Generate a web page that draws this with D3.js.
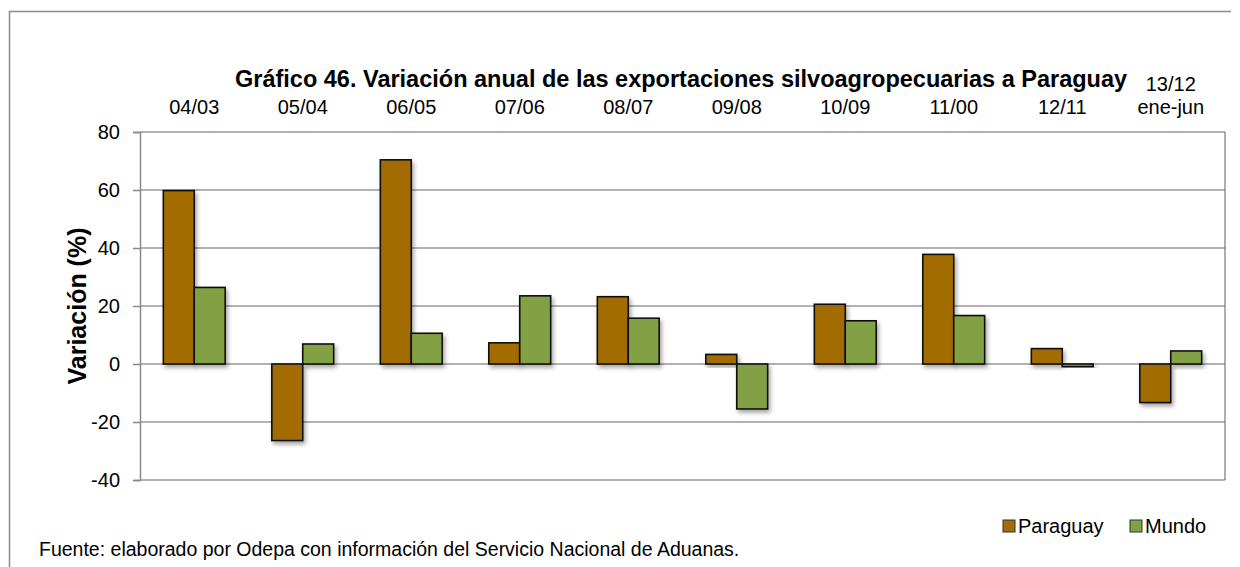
<!DOCTYPE html>
<html>
<head>
<meta charset="utf-8">
<script src="https://cdn.jsdelivr.net/npm/d3@7"></script>
<style>
  body { margin: 0; background: #fff; }
  svg text { font-family: "Liberation Sans", Arial, sans-serif; }
</style>
</head>
<body>
<div id="chart-area"></div>
<script>
// periods (top axis labels)
const periods = ['04/03', '05/04', '06/05', '07/06', '08/07', '09/08', '10/09', '11/00', '12/11', '13/12\nene-jun'];
const seriesNames = ['Paraguay', 'Mundo'];
const paraguay = [59.8, -26.4, 70.4, 7.3, 23.2, 3.3, 20.6, 37.8, 5.3, -13.3];
const mundo = [26.4, 6.9, 10.6, 23.5, 15.8, -15.5, 14.9, 16.7, -0.9, 4.5];
const yTicks = [-40, -20, 0, 20, 40, 60, 80];
const colors = ['#a36c04', '#83a045'];

const W = 1240, H = 567;
const plot = { left: 140, top: 132, right: 1225, bottom: 480 };

main();

function main() {
  const svg = d3.select('#chart-area').append('svg')
    .attr('width', W)
    .attr('height', H);

  // shadow for the bars
  const defs = svg.append('defs');
  const f = defs.append('filter').attr('id', 'shadow')
    .attr('x', '-20%').attr('y', '-20%').attr('width', '160%').attr('height', '160%');
  f.append('feDropShadow')
    .attr('dx', 2).attr('dy', 3).attr('stdDeviation', 2)
    .attr('flood-color', '#000').attr('flood-opacity', 0.35);

  // outer frame (left + top visible)
  svg.append('path')
    .attr('d', `M9.5,${H} L9.5,11.5 L1231,11.5`)
    .attr('fill', 'none')
    .attr('stroke', '#8a8a8a')
    .attr('stroke-width', 1.5);

  const x = d3.scaleBand()
    .domain(periods)
    .range([plot.left, plot.right])
    .paddingInner(0.43)
    .paddingOuter(0.215);
  const xInner = d3.scaleBand()
    .domain(seriesNames)
    .range([0, x.bandwidth()]);
  const y = d3.scaleLinear()
    .domain([-40, 80])
    .range([plot.bottom, plot.top]);

  // gridlines
  svg.append('g')
    .selectAll('line')
    .data(yTicks)
    .join('line')
    .attr('x1', plot.left)
    .attr('x2', plot.right)
    .attr('y1', d => y(d))
    .attr('y2', d => y(d))
    .attr('stroke', '#999')
    .attr('stroke-width', 1.5);

  // right border of plot area
  svg.append('line')
    .attr('x1', plot.right).attr('x2', plot.right)
    .attr('y1', plot.top).attr('y2', plot.bottom)
    .attr('stroke', '#777').attr('stroke-width', 1.2);

  // Y axis
  const yAxis = d3.axisLeft(y)
    .tickValues(yTicks)
    .tickSize(7)
    .tickPadding(13)
    .tickFormat(d => String(d));
  const ga = svg.append('g')
    .attr('transform', `translate(${plot.left},0)`)
    .call(yAxis);
  ga.attr('font-family', null).attr('font-size', null);
  ga.select('.domain').attr('stroke', '#888').attr('stroke-width', 1.5);
  ga.selectAll('.tick line').attr('stroke', '#888').attr('stroke-width', 1.5);
  ga.selectAll('.tick text')
    .attr('font-size', 20)
    .attr('fill', '#000');

  // bars
  const rows = periods.map((p, i) => ({ period: p, values: [paraguay[i], mundo[i]] }));
  const groups = svg.append('g')
    .selectAll('g')
    .data(rows)
    .join('g')
    .attr('transform', d => `translate(${x(d.period)},0)`);
  groups.selectAll('rect')
    .data(d => d.values.map((v, k) => ({ name: seriesNames[k], value: v, k })))
    .join('rect')
    .attr('x', d => xInner(d.name))
    .attr('y', d => y(Math.max(0, d.value)))
    .attr('width', xInner.bandwidth())
    .attr('height', d => Math.abs(y(d.value) - y(0)))
    .attr('fill', d => colors[d.k])
    .attr('stroke', '#111')
    .attr('stroke-width', 1.6)
    .attr('filter', 'url(#shadow)');

  // category labels on top
  const labels = svg.append('g')
    .selectAll('text')
    .data(periods)
    .join('text')
    .attr('x', d => x(d) + x.bandwidth() / 2)
    .attr('y', 114)
    .attr('text-anchor', 'middle')
    .attr('font-size', 20)
    .attr('fill', '#000');
  labels.each(function(d) {
    const parts = d.split('\n');
    const t = d3.select(this);
    if (parts.length === 1) {
      t.text(d);
    } else {
      t.attr('y', 114 - 23);
      parts.forEach((s, i) => {
        t.append('tspan')
          .attr('x', x(d) + x.bandwidth() / 2)
          .attr('dy', i === 0 ? 0 : 23)
          .text(s);
      });
    }
  });

  // title
  svg.append('text')
    .attr('x', 235)
    .attr('y', 87)
    .attr('font-size', 23.5)
    .attr('font-weight', 'bold')
    .text('Gráfico 46. Variación anual de las exportaciones silvoagropecuarias a Paraguay');

  // y title
  svg.append('text')
    .attr('transform', `translate(77,${(plot.top + plot.bottom) / 2}) rotate(-90)`)
    .attr('text-anchor', 'middle')
    .attr('dy', '0.35em')
    .attr('font-size', 25)
    .attr('font-weight', 'bold')
    .text('Variación (%)');

  // legend
  const legendX = [1003, 1130];
  const lg = svg.append('g')
    .selectAll('g')
    .data(seriesNames)
    .join('g')
    .attr('transform', (d, i) => `translate(${legendX[i]},520)`);
  lg.append('rect')
    .attr('width', 12).attr('height', 12)
    .attr('fill', (d, i) => colors[i])
    .attr('stroke', '#333').attr('stroke-width', 1);
  lg.append('text')
    .attr('x', 15)
    .attr('y', 13)
    .attr('font-size', 20)
    .text(d => d);

  // source
  svg.append('text')
    .attr('x', 39)
    .attr('y', 556)
    .attr('font-size', 19.5)
    .text('Fuente: elaborado por Odepa con información del Servicio Nacional de Aduanas.');
}
</script>
</body>
</html>
